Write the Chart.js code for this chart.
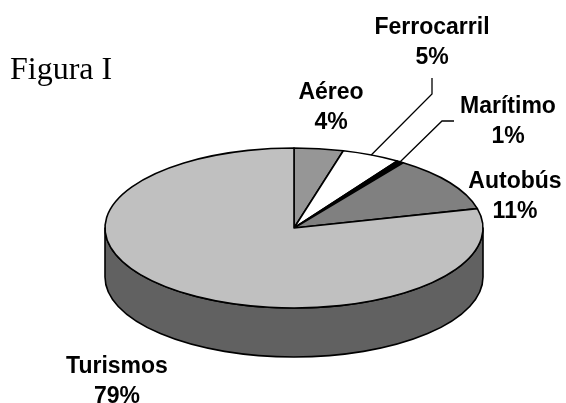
<!DOCTYPE html>
<html>
<head>
<meta charset="utf-8">
<script src="https://cdn.jsdelivr.net/npm/chart.js@4.4.1/dist/chart.umd.min.js"></script>
<style>
  html, body { margin: 0; padding: 0; background: #fff; }
  #wrap { width: 566px; height: 403px; }
</style>
</head>
<body>
<div id="wrap"><canvas id="c" width="566" height="403"></canvas></div>
<script>
// data
const categories = ['Aéreo', 'Ferrocarril', 'Marítimo', 'Autobús', 'Turismos'];
const shares = [4.2, 5.0, 0.6, 11.3, 78.9];
const percentLabels = ['4%', '5%', '1%', '11%', '79%'];

const topColors = ['#969696', '#ffffff', '#000000', '#808080', '#c0c0c0'];
const sideColors = ['#5a5a5a', '#9a9a9a', '#000000', '#4d4d4d', '#616161'];

// label layout: [centre x, first baseline], optional leader [elbow x, elbow y, end x, end y]
const labelPos = [[331, 99], [432, 34], [508, 113], [515, 188], [117, 373]];
const leaders = [null, [432, 94, 432, 78], [442, 121, 454, 121], null, null];

const pie3d = {
  id: 'pie3d',
  beforeDatasetsDraw(chart, args, opts) {
    const ctx = chart.ctx;
    const arcs = chart.getDatasetMeta(0).data;
    const cx = arcs[0].x, rx = arcs[0].outerRadius;
    const ry = rx * opts.tilt, cy = opts.centerY, d = opts.depth;
    ctx.save();
    ctx.lineWidth = 1.6;
    ctx.strokeStyle = '#000';
    ctx.lineJoin = 'round';
    // side walls (front half only)
    arcs.forEach((a, i) => {
      const lo = Math.max(a.startAngle, 0), hi = Math.min(a.endAngle, Math.PI);
      if (lo >= hi) return;
      ctx.beginPath();
      ctx.ellipse(cx, cy, rx, ry, 0, lo, hi);
      ctx.lineTo(cx + rx * Math.cos(hi), cy + d + ry * Math.sin(hi));
      ctx.ellipse(cx, cy + d, rx, ry, 0, hi, lo, true);
      ctx.closePath();
      ctx.fillStyle = sideColors[i];
      ctx.fill();
      ctx.stroke();
    });
    // top faces
    arcs.forEach((a, i) => {
      ctx.beginPath();
      ctx.moveTo(cx, cy);
      ctx.ellipse(cx, cy, rx, ry, 0, a.startAngle, a.endAngle);
      ctx.closePath();
      ctx.fillStyle = topColors[i];
      ctx.fill();
      ctx.stroke();
    });
    ctx.restore();
    return false;
  },
  afterDraw(chart, args, opts) {
    const ctx = chart.ctx;
    const arcs = chart.getDatasetMeta(0).data;
    const cx = arcs[0].x, rx = arcs[0].outerRadius;
    const ry = rx * opts.tilt, cy = opts.centerY;
    ctx.save();
    ctx.fillStyle = '#000';
    ctx.font = '32px "Liberation Serif", "Times New Roman", serif';
    ctx.textAlign = 'left';
    ctx.textBaseline = 'alphabetic';
    ctx.fillText('Figura I', 10, 79);

    ctx.font = 'bold 23px "Liberation Sans", Arial, sans-serif';
    ctx.textAlign = 'center';
    arcs.forEach((a, i) => {
      const [lx, ly] = labelPos[i];
      ctx.fillText(categories[i], lx, ly);
      ctx.fillText(percentLabels[i], lx, ly + 30);
      const l = leaders[i];
      if (l) {
        const mid = (a.startAngle + a.endAngle) / 2;
        ctx.beginPath();
        ctx.moveTo(cx + rx * Math.cos(mid), cy + ry * Math.sin(mid));
        ctx.lineTo(l[0], l[1]);
        ctx.lineTo(l[2], l[3]);
        ctx.lineWidth = 1.3;
        ctx.strokeStyle = '#000';
        ctx.stroke();
      }
    });
    ctx.restore();
  }
};

new Chart(document.getElementById('c'), {
  type: 'pie',
  data: {
    labels: categories,
    datasets: [{
      data: shares,
      backgroundColor: topColors,
      borderColor: '#000',
      borderWidth: 1.5,
      hoverOffset: 0,
      offset: 0
    }]
  },
  options: {
    responsive: false,
    animation: false,
    events: [],
    radius: 189,
    layout: { padding: { left: 105, right: 83, top: 10, bottom: 15 } },
    plugins: {
      legend: { display: false },
      tooltip: { enabled: false },
      pie3d: { tilt: 80 / 189, centerY: 228, depth: 49 }
    }
  },
  plugins: [pie3d]
});
</script>
</body>
</html>
